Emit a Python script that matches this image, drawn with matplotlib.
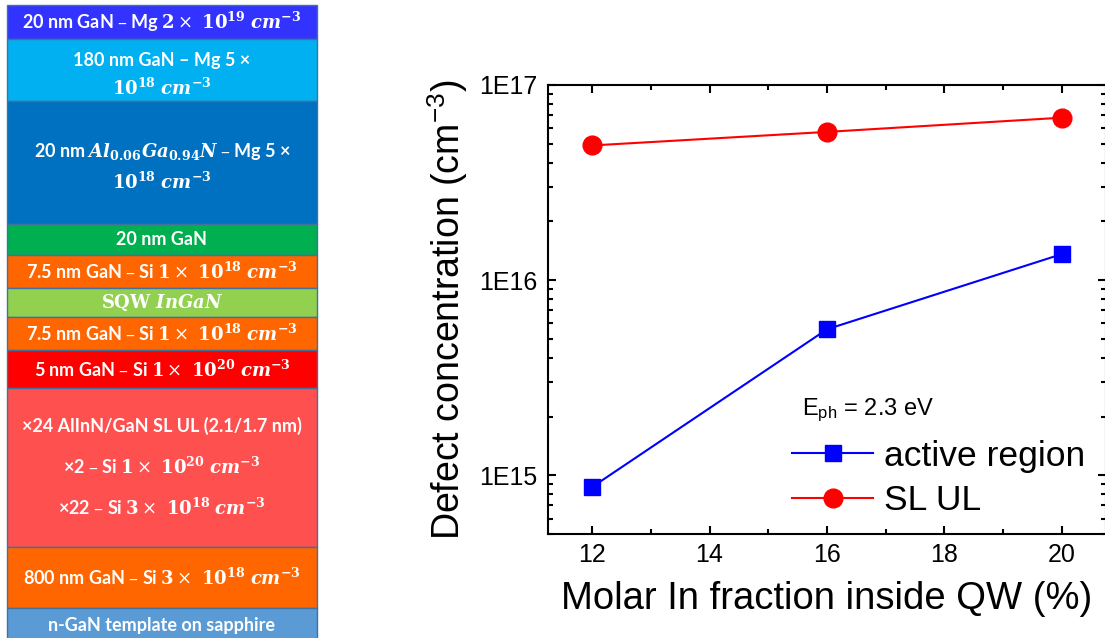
import matplotlib
matplotlib.use("Agg")
import matplotlib.pyplot as plt
from matplotlib.patches import Rectangle

plt.rcParams['font.family'] = ['Liberation Sans', 'DejaVu Sans']
plt.rcParams['mathtext.fontset'] = 'dejavuserif'

# ---------------- data ----------------
in_fraction = [12, 16, 20]
active_region = [8.7e14, 5.6e15, 1.36e16]
sl_ul = [4.9e16, 5.75e16, 6.8e16]
x_ticks = [12, 14, 16, 18, 20]
y_ticks = [1e15, 1e16, 1e17]
y_tick_labels = ['1E15', '1E16', '1E17']


def conc(prefix, mant, exp):
    return (prefix + rf"$\mathbf{{{mant}}}\times\ \mathbf{{10}}^{{\mathbf{{{exp}}}}}"
            rf"\ \mathbfit{{cm}}^{{\mathbf{{-3}}}}$")


exp_part = r"$\mathbf{10}^{\mathbf{18}}\ \mathbfit{cm}^{\mathbf{-3}}$"

layer_labels = [
    conc("20 nm GaN – Mg ", 2, 19),
    "180 nm GaN – Mg 5 ×\n" + exp_part,
    r"20 nm $\mathbfit{Al}_{\mathbf{0.06}}\mathbfit{Ga}_{\mathbf{0.94}}\mathbfit{N}$ – Mg 5 ×" + "\n" + exp_part,
    "20 nm GaN",
    conc("7.5 nm GaN – Si ", 1, 18),
    r"$\mathbf{SQW}\ \mathbfit{InGaN}$",
    conc("7.5 nm GaN – Si ", 1, 18),
    conc("5 nm GaN – Si ", 1, 20),
    "×24 AlInN/GaN SL UL (2.1/1.7 nm)\n" + conc("×2 – Si ", 1, 20) + "\n" + conc("×22 – Si ", 3, 18),
    conc("800 nm GaN – Si ", 3, 18),
    "n-GaN template on sapphire",
]
layer_colors = ['#3333FF', '#00B0F0', '#0070C0', '#00B050', '#FF6600', '#92D050',
                '#FF6600', '#FF0000', '#FF5050', '#FF6600', '#5B9BD5']
layer_thickness = [34, 62, 123, 31, 33, 29, 33, 38, 159, 61, 36]
layer_linespacing = [1.2, 1.45, 1.45, 1.2, 1.2, 1.2, 1.2, 1.2, 2.1, 1.2, 1.2]
layer_text_shift = [0, 5, 4, 0, 0, 0, 0, 0, 0, 0, 0]

fig = plt.figure(figsize=(11.05, 6.38), dpi=100)

# ---------------- layer stack ----------------
axd = fig.add_axes([0, 0, 1, 1])
axd.set_xlim(0, 1105)
axd.set_ylim(638, 0)
axd.axis('off')
top = 5
for lab, col, th, ls, sh in zip(layer_labels, layer_colors, layer_thickness,
                                layer_linespacing, layer_text_shift):
    axd.add_patch(Rectangle((7, top), 310, th, facecolor=col, edgecolor='#41719C', lw=1.0))
    axd.text(162, top + th / 2 + sh, lab, ha='center', va='center', color='white',
             fontsize=13, fontweight='bold', family=['Lato', 'DejaVu Sans'],
             linespacing=ls, multialignment='center')
    top += th

# ---------------- plot ----------------
ax = fig.add_axes([548 / 1105, 104 / 638, 558 / 1105, 449 / 638])
ax.plot(in_fraction, active_region, '-s', color='#0000FF', ms=12, lw=1.5, label='active region')
ax.plot(in_fraction, sl_ul, '-o', color='#FF0000', ms=13.5, lw=1.5, label='SL UL')
ax.set_yscale('log')
ax.set_ylim(5e14, 1e17)
ax.set_xlim(11.25, 20.75)
ax.set_xticks(x_ticks)
ax.set_xticks([13, 15, 17, 19], minor=True)
ax.set_yticks(y_ticks, labels=y_tick_labels)
ax.tick_params(which='both', direction='in', top=True, right=True, width=1.5)
ax.tick_params(which='major', length=6)
ax.tick_params(which='minor', length=3.5)
ax.tick_params(axis='x', labelsize=18, pad=6.5)
ax.tick_params(axis='y', labelsize=18, pad=8)
for s in ax.spines.values():
    s.set_linewidth(1.5)

ax.set_xlabel('Molar In fraction inside QW (%)', fontsize=27.5, labelpad=10)
ax.set_ylabel(r'Defect concentration (cm$^{\mathregular{-3}}$)', fontsize=27)
ax.yaxis.set_label_coords(-0.14, 0.5)

ax.text(0.455, 0.265, r'E$_{\mathregular{ph}}$ = 2.3 eV', transform=ax.transAxes,
        fontsize=17, ha='left', va='baseline')
ax.legend(loc='upper left', bbox_to_anchor=(0.437, 0.21), frameon=False, fontsize=25.5,
          borderpad=0, borderaxespad=0, handlelength=2.3, handletextpad=0.3,
          labelspacing=0.32)

fig.savefig('out.png', dpi=100)
